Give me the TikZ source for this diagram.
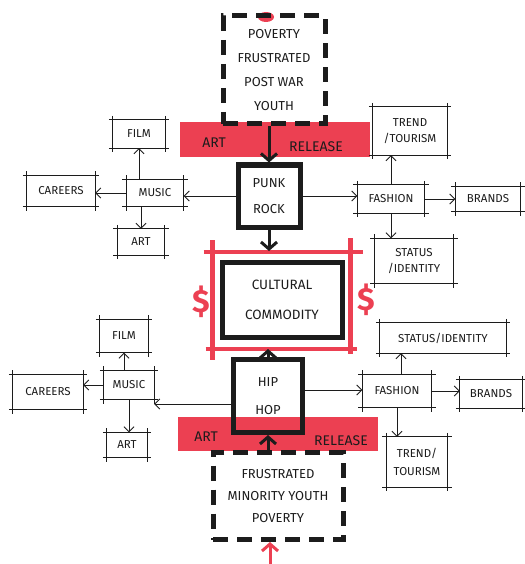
\documentclass[tikz,border=0pt]{standalone}
\usepackage{fontspec}
\setmainfont{Fira Sans}
\usetikzlibrary{arrows.meta}
\definecolor{marker}{RGB}{236,64,82}
\definecolor{ink}{RGB}{28,28,28}
% sketchy frame: four strokes that overshoot the corners
\newcommand\skbox[1]{%
  \draw[skline] ([xshift=-4pt]#1.north west) -- ([xshift=4pt]#1.north east)
                ([xshift=-4pt]#1.south west) -- ([xshift=4pt]#1.south east)
                ([yshift=4pt]#1.north west) -- ([yshift=-4pt]#1.south west)
                ([yshift=4pt]#1.north east) -- ([yshift=-4pt]#1.south east);}
\begin{document}
\begin{tikzpicture}[x=1pt,y=-1pt,
  lbl/.style={text=ink,font=\fontsize{11.5}{13}\selectfont,inner sep=0pt,align=center},
  skline/.style={draw=ink,line width=0.9pt},
  heavybox/.style={draw=ink,line width=5pt,inner sep=0pt,align=center,text=ink,
    font=\fontsize{13}{15}\selectfont},
  dashbox/.style={heavybox,dash pattern=on 15pt off 9pt},
  bandfill/.style={fill=marker,draw=none,inner sep=0pt},
  bandtext/.style={text=ink,font=\fontsize{14}{16}\selectfont,inner sep=0pt},
  arr/.style={draw=ink,line width=0.9pt,-{Straight Barb[length=5pt,width=10pt]}},
  bigarr/.style={draw=ink,line width=3pt,-{Straight Barb[length=7pt,width=16pt]}},
  redarr/.style={bigarr,draw=marker},
  redframe/.style={draw=marker,line width=4.5pt},
  dollar/.style={text=marker,font=\bfseries\fontsize{32}{32}\selectfont,inner sep=0pt}]
\useasboundingbox (0,0) rectangle (524,564);

% marker bands behind the source boxes
\node[bandfill,minimum width=190pt,minimum height=35pt] (band1) at (275,139.5) {};
\node[bandfill,minimum width=200pt,minimum height=34pt] (band2) at (278,434) {};
\node[bandtext] (artA) at (214,143) {ART};
\node[bandtext] (relA) at (316,147) {RELEASE};
\node[bandtext] (artB) at (206,437) {ART};
\node[bandtext] (relB) at (341,441) {RELEASE};

% top half: punk rock
\fill[marker] (266,17) ellipse (8pt and 5pt);
\node[dashbox,minimum width=102pt,minimum height=108pt] (topsrc) at (274,70)
  {POVERTY\\[9pt]FRUSTRATED\\[9pt]POST WAR\\[9pt]YOUTH};
\node[heavybox,minimum width=62pt,minimum height=62pt] (punk) at (269,196)
  {PUNK\\[11pt]ROCK};

\node[lbl,minimum width=57pt,minimum height=27pt] (music1) at (155,193) {MUSIC};
\node[lbl,minimum width=52pt,minimum height=28pt] (film1) at (139,134) {FILM};
\node[lbl,minimum width=68pt,minimum height=31pt] (careers1) at (61,191) {CAREERS};
\node[lbl,minimum width=47pt,minimum height=26pt] (art1) at (141,242) {ART};
\node[lbl,minimum width=67pt,minimum height=28pt] (fashion1) at (391,199) {FASHION};
\node[lbl,minimum width=74pt,minimum height=48pt] (trend1) at (410,131) {TREND\\[3pt]/TOURISM};
\node[lbl,minimum width=65pt,minimum height=25pt] (brands1) at (488,199) {BRANDS};
\node[lbl,minimum width=79pt,minimum height=45pt] (status1) at (414,261) {STATUS\\[3pt]/IDENTITY};
\foreach \n in {music1,film1,careers1,art1,fashion1,trend1,brands1,status1} {\skbox{\n}}

% centre: cultural commodity
\node[heavybox,minimum width=120pt,minimum height=75pt,font=\fontsize{13.5}{15}\selectfont]
  (comm) at (282,300) {CULTURAL\\[15pt]COMMODITY};
\draw[redframe] ([xshift=-16pt,yshift=8pt]comm.north west) -- ([xshift=18pt,yshift=8pt]comm.north east);
\draw[redframe] ([xshift=-14pt,yshift=-9pt]comm.south west) -- ([xshift=12pt,yshift=-9pt]comm.south east);
\draw[redframe] ([xshift=-7pt,yshift=20pt]comm.north west) -- ([xshift=-7pt,yshift=-20pt]comm.south west);
\draw[redframe] ([xshift=6pt,yshift=22pt]comm.north east) -- ([xshift=6pt,yshift=-14pt]comm.south east);
\coordinate (commtop) at ([yshift=9pt]comm.north);
\coordinate (commfoot) at ([yshift=-9pt]comm.south);
\node[dollar] (dolL) at (201,302) {\$};
\node[dollar] (dolR) at (366,300) {\$};

% bottom half: hip hop
\node[heavybox,minimum width=69pt,minimum height=73pt] (hiphop) at (268,396)
  {HIP\\[13pt]HOP};
\node[dashbox,minimum width=130pt,minimum height=87pt] (botsrc) at (278,496)
  {FRUSTRATED\\[7pt]MINORITY YOUTH\\[7pt]POVERTY};
\coordinate (redfoot) at (270,566);

\node[lbl,minimum width=50pt,minimum height=29pt] (music2) at (129,385) {MUSIC};
\node[lbl,minimum width=48pt,minimum height=33pt] (film2) at (124,336) {FILM};
\node[lbl,minimum width=70pt,minimum height=35pt] (careers2) at (48,392) {CAREERS};
\node[lbl,minimum width=40pt,minimum height=25pt] (art2) at (127,445) {ART};
\node[lbl,minimum width=69pt,minimum height=33pt] (fashion2) at (397,391) {FASHION};
\node[lbl,minimum width=126pt,minimum height=30pt] (status2) at (443,338) {STATUS/IDENTITY};
\node[lbl,minimum width=62pt,minimum height=28pt] (brands2) at (491,394) {BRANDS};
\node[lbl,minimum width=61pt,minimum height=50pt] (trend2) at (417,462) {TREND/\\[5pt]TOURISM};
\foreach \n in {music2,film2,careers2,art2,fashion2,status2,brands2,trend2} {\skbox{\n}}

% main chain, kept on one vertical
\draw[bigarr] (punk.north |- topsrc.south) -- (punk.north);
\draw[bigarr] (punk.south) -- (punk.south |- commtop);
\draw[bigarr] (hiphop.north) -- (hiphop.north |- commfoot);
\draw[bigarr] (hiphop.south |- botsrc.north) -- (hiphop.south);
\draw[redarr] (redfoot) -- (redfoot |- botsrc.south);

% branches from punk rock
\draw[arr] (punk.west) -- (punk.west -| music1.east);
\draw[arr] (film1.south |- music1.north) -- (film1.south);
\draw[arr] (music1.west) -- (music1.west -| careers1.east);
\draw[arr] (art1.north |- music1.south) -- (art1.north);
\draw[arr] (punk.east) -- (punk.east -| fashion1.west);
\draw[arr] (fashion1.north) -- (fashion1.north |- trend1.south);
\draw[arr] (fashion1.east) -- (fashion1.east -| brands1.west);
\draw[arr] (fashion1.south) -- (fashion1.south |- status1.north);

% branches from hip hop
\draw[arr] ([yshift=-8pt]hiphop.west) -- ([yshift=-8pt]hiphop.west -| music2.east);
\draw[arr] (music2.north -| film2.south) -- (film2.south);
\draw[arr] (music2.west) -- (music2.west -| careers2.east);
\draw[arr] (music2.south) -- (music2.south |- art2.north);
\draw[arr] ([yshift=6pt]hiphop.east) -- ([yshift=6pt]hiphop.east -| fashion2.west);
\draw[arr] ([xshift=4pt]fashion2.north) -- ([xshift=4pt]fashion2.north |- status2.south);
\draw[arr] (fashion2.east) -- (fashion2.east -| brands2.west);
\draw[arr] (fashion2.south) -- (fashion2.south |- trend2.north);
\end{tikzpicture}
\end{document}
